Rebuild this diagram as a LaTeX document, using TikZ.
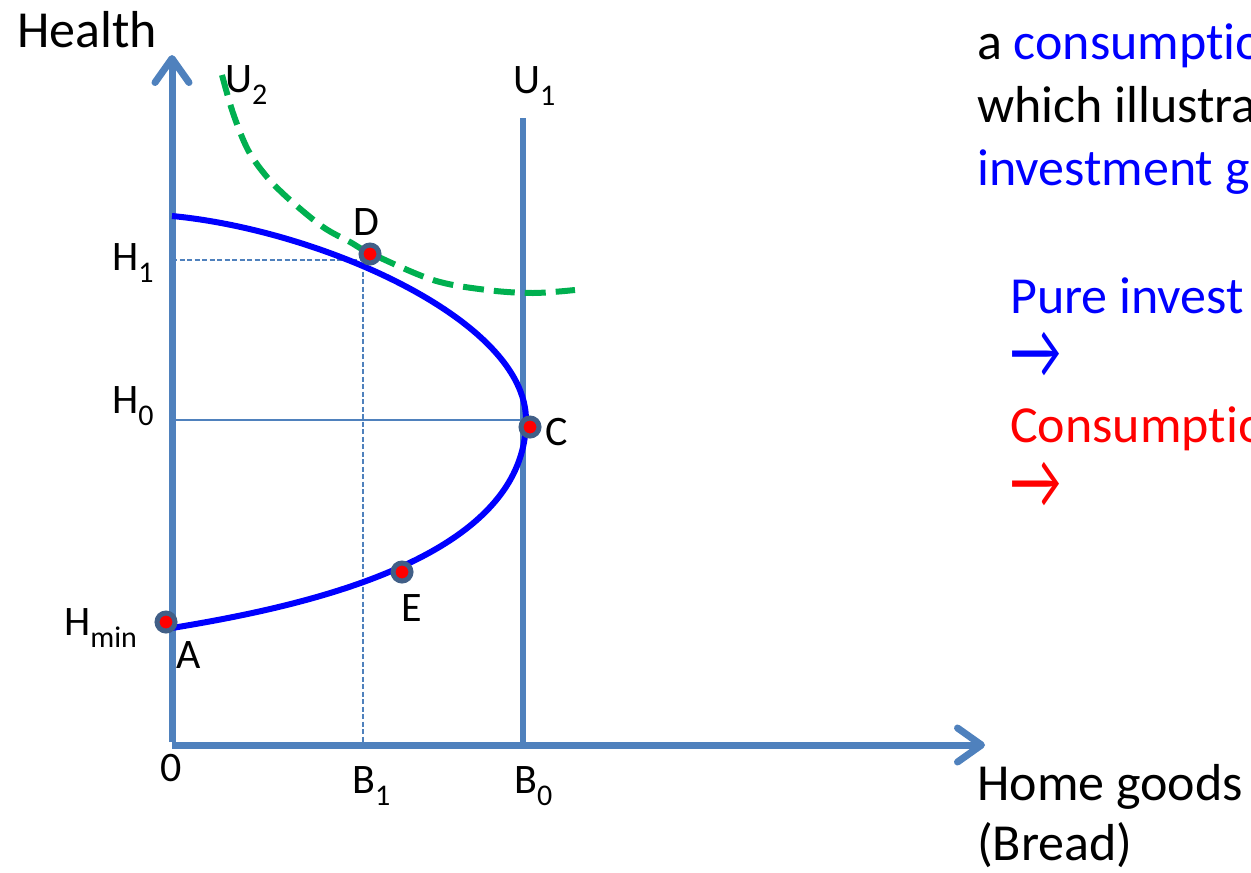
\documentclass[tikz,border=0pt]{standalone}
\usepackage{fontspec}
\setmainfont{Carlito}[Ligatures=NoCommon]
\usepackage{graphicx}
\usetikzlibrary{arrows.meta}
\definecolor{axisblue}{RGB}{79,129,189}
\definecolor{ptouter}{RGB}{65,95,135}
\definecolor{ugreen}{RGB}{0,176,80}
\definecolor{pblue}{RGB}{0,0,255}
\definecolor{pred}{RGB}{255,0,0}
\newcommand{\lowsub}[1]{\raisebox{-12pt}{\fontsize{30}{30}\selectfont #1}}
\newcommand{\bigarrow}{\scalebox{1.08}[1.55]{→}}
\begin{document}
\begin{tikzpicture}[x=1pt,y=-1pt,
  lbl/.style={anchor=base west,inner sep=0pt,font=\fontsize{42}{50}\selectfont},
  big/.style={anchor=base west,inner sep=0pt,font=\fontsize{52}{60}\selectfont},
  axisline/.style={draw=axisblue,line width=7pt,-{Straight Barb[length=24pt,width=34pt,round]}},
  uline/.style={draw=axisblue,line width=6pt},
  thinline/.style={draw=axisblue,line width=1.4pt},
  thindash/.style={draw=axisblue,line width=1.4pt,dash pattern=on 5pt off 2.5pt},
  ppf/.style={draw=pblue,line width=6pt},
  indiff/.style={draw=ugreen,line width=6pt,dash pattern=on 21pt off 10pt},
  pt/.style={circle,fill=red,draw=ptouter,line width=5pt,minimum size=18pt,inner sep=0pt}]
\useasboundingbox (0,0) rectangle (1251,873);
% coordinates
\coordinate (O) at (172,745);
\coordinate (Ybot) at (172,742);
\coordinate (Ytip) at (172,55);
\coordinate (Xtip) at (985,745);
\coordinate (U1top) at (523,118);
\coordinate (U1bot) at (523,745);
\coordinate (H1y) at (172,260);
\coordinate (H0y) at (172,420);
\coordinate (C0) at (523,420);
\coordinate (K) at (363,260);
\coordinate (B1x) at (363,745);
\coordinate (Ctop) at (172,216);
\coordinate (Cv) at (526,420);
\coordinate (Cbot) at (172,628);
% guide lines
\draw[thinline] (H0y) -- (C0);
\draw[thindash] (H1y) -- (K) -- (B1x);
% axes
\draw[axisline] (Ybot) -- (Ytip);
\draw[axisline] (O) -- (Xtip);
\draw[uline] (U1top) -- (U1bot);
% production possibility curve
\draw[ppf] (Ctop) .. controls (320,230) and (526,320) .. (Cv)
  .. controls (526,560) and (300,607) .. (Cbot);
% indifference curve U2
\draw[indiff] plot[smooth,tension=0.55] coordinates {(222,75) (233,113) (248,150) (267,177) (290,200) (323,227) (350,242) (370,253) (433,280) (487,290) (533,293) (575,290)};
% points
\node[pt] (A) at (166,622) {};
\node[pt] (E) at (402,572) {};
\node[pt] (C) at (530,427) {};
\node[pt] (D) at (370,254) {};
% labels
\node[big] (health) at (17,47) {Health};
\node[lbl] (lU2) at (225,92) {U\lowsub{2}};
\node[lbl] (lU1) at (513,93) {U\lowsub{1}};
\node[lbl] (lD) at (353,235) {D};
\node[lbl] (lC) at (545,445) {C};
\node[lbl] (lE) at (401,621) {E};
\node[lbl] (lA) at (176,668) {A};
\node[lbl] (lH1) at (112,270) {H\lowsub{1}};
\node[lbl] (lH0) at (112,413) {H\lowsub{0}};
\node[lbl] (lHmin) at (64,635) {H\lowsub{min}};
\node[lbl] (l0) at (160,781) {0};
\node[lbl] (lB1) at (352,793) {B\lowsub{1}};
\node[lbl] (lB0) at (514,793) {B\lowsub{0}};
\node[big] (home) at (977,800) {Home goods};
\node[big] (bread) at (977,860) {(Bread)};
% right text
\node[big] (t1) at (977,59) {a \textcolor{pblue}{consumptio}};
\node[big] (t2) at (977,122) {which illustra};
\node[big,text=pblue] (t3) at (977,185) {investment g};
\node[big,text=pblue] (t4) at (1010,313) {Pure invest};
\node[big,text=pblue] (t5) at (1010,378) {\smash{\bigarrow}};
\node[big,text=pred] (t6) at (1010,442) {Consumptio};
\node[big,text=pred] (t7) at (1010,508) {\smash{\bigarrow}};
\end{tikzpicture}
\end{document}
